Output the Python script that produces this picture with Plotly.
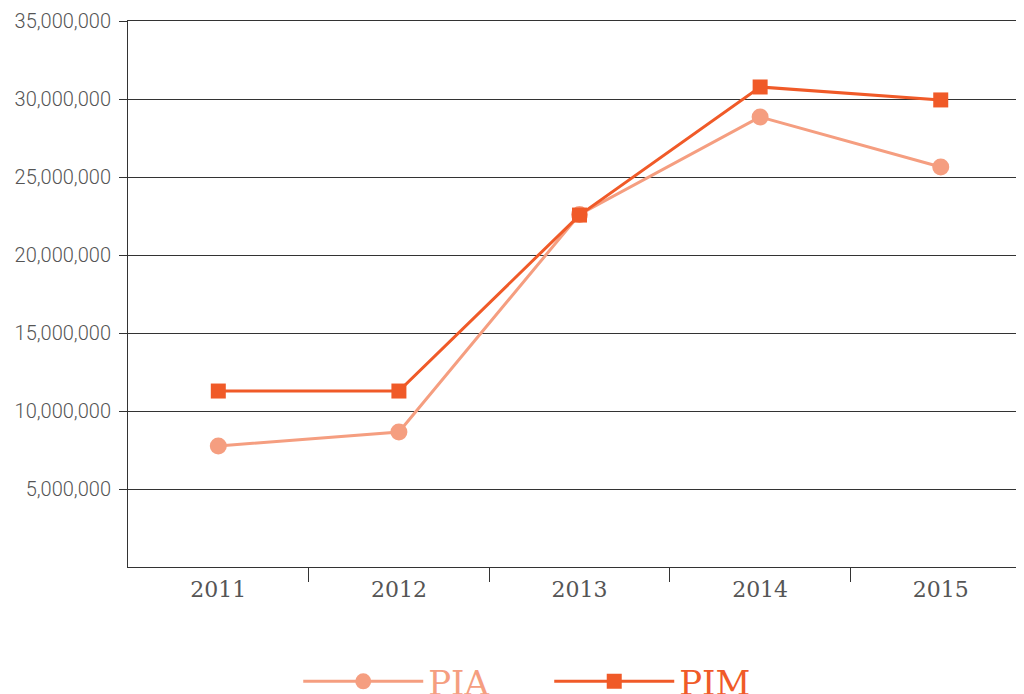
import plotly.graph_objects as go

years = [2011, 2012, 2013, 2014, 2015]
year_labels = ["2011", "2012", "2013", "2014", "2015"]
pia = [7760000, 8650000, 22600000, 28850000, 25640000]
pim = [11280000, 11280000, 22560000, 30770000, 29940000]
ytick_vals = [5e6, 10e6, 15e6, 20e6, 25e6, 30e6, 35e6]
ytick_text = ["5,000,000", "10,000,000", "15,000,000", "20,000,000", "25,000,000", "30,000,000", "35,000,000"]
band_edges = [2011.5, 2012.5, 2013.5, 2014.5]

c_pia = "#F59E80"
c_pim = "#F05A28"
serif = "DejaVu Serif, Liberation Serif, serif"
sans = "Roboto, Liberation Sans, sans-serif"

fig = go.Figure()
fig.add_trace(go.Scatter(x=years, y=pia, mode="lines+markers",
                         name=f"<span style='color:{c_pia}'>PIA</span>",
                         line=dict(color=c_pia, width=3),
                         marker=dict(symbol="circle", size=17, color=c_pia)))
fig.add_trace(go.Scatter(x=years, y=pim, mode="lines+markers",
                         name=f"<span style='color:{c_pim}'>PIM</span>",
                         line=dict(color=c_pim, width=3),
                         marker=dict(symbol="square", size=15, color=c_pim)))

fig.update_layout(
    width=1016, height=686,
    margin=dict(l=120, r=0, t=13, b=127, autoexpand=False),
    plot_bgcolor="white", paper_bgcolor="white",
    font=dict(family=serif, color="#555555", size=16),
    showlegend=True,
    legend=dict(orientation="h", x=0.19, xanchor="left", y=-0.157, yanchor="top",
                itemwidth=120, entrywidth=116, entrywidthmode="pixels",
                font=dict(size=34, family=serif, weight=300),
                traceorder="normal", itemsizing="trace"),
    xaxis=dict(range=[2010.5, 2015.461], tickvals=years, ticktext=year_labels,
               showgrid=False, showline=True, mirror=True, linecolor="#333333", linewidth=1,
               ticks="", automargin=False, zeroline=False, ticklabelstandoff=3,
               minor=dict(tickvals=band_edges, ticks="outside", ticklen=14,
                          tickcolor="#333333", showgrid=False),
               tickfont=dict(size=22, color="#555555", family=serif, weight=300)),
    yaxis=dict(range=[0, 35e6], tickvals=ytick_vals, ticktext=ytick_text,
               showgrid=True, gridcolor="#333333", gridwidth=1,
               showline=True, linecolor="#333333", linewidth=1,
               ticks="outside", ticklen=8, tickcolor="#333333", automargin=False,
               ticklabelstandoff=4,
               tickfont=dict(size=20, color="#555555", family=sans, weight=300), zeroline=False),
)

fig.write_html("out.html")
